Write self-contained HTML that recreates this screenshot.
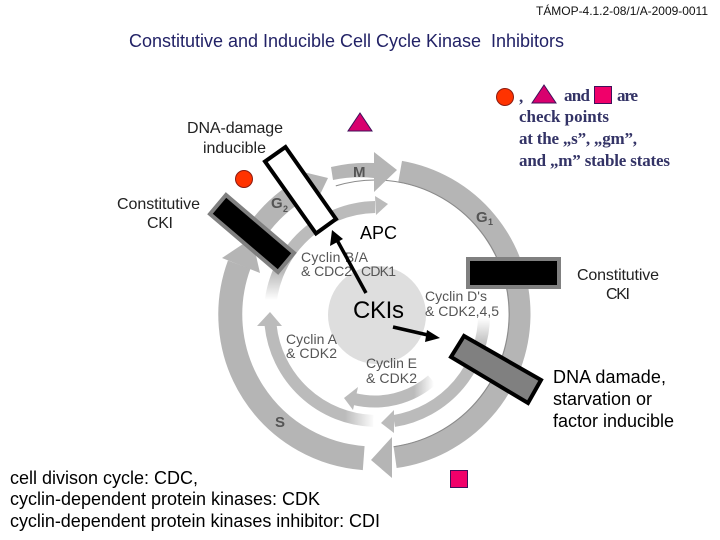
<!DOCTYPE html>
<html>
<head>
<meta charset="utf-8">
<style>
html,body{margin:0;padding:0;background:#fff;width:720px;height:540px;overflow:hidden}
svg{display:block}
text{font-family:"Liberation Sans",sans-serif}
.s{font-family:"Liberation Serif",serif;font-size:17px;fill:#333366;font-weight:bold}
.c{font-size:14px;fill:#555}
.g{font-weight:bold;fill:#555;font-size:15px}
.k{fill:#000;font-size:18px}
.t{fill:#222;font-size:16px}
</style>
</head>
<body>
<svg width="720" height="540" viewBox="0 0 720 540" xmlns="http://www.w3.org/2000/svg">
<defs>
<linearGradient id="fb" gradientUnits="userSpaceOnUse" x1="0" y1="300" x2="0" y2="272"><stop offset="0" stop-color="#fff"/><stop offset="1" stop-color="#bbb"/></linearGradient>
<linearGradient id="fa" gradientUnits="userSpaceOnUse" x1="375" y1="0" x2="345" y2="0"><stop offset="0" stop-color="#fff"/><stop offset="1" stop-color="#bbb"/></linearGradient>
<linearGradient id="fd" gradientUnits="userSpaceOnUse" x1="0" y1="318" x2="0" y2="345"><stop offset="0" stop-color="#fff"/><stop offset="1" stop-color="#bbb"/></linearGradient>
<linearGradient id="fe" gradientUnits="userSpaceOnUse" x1="434" y1="0" x2="414" y2="0"><stop offset="0" stop-color="#fff"/><stop offset="1" stop-color="#bbb"/></linearGradient>
</defs>

<!-- outer ring -->
<g fill="none" stroke="#b5b5b5">
<path d="M400.1 171.7A144.5 144.5 0 0 1 395.1 457.1" stroke-width="22"/>
<path d="M363.7 458.1A144 144 0 0 1 239.2 264.6" stroke-width="24"/>
<path d="M256.6 231.1A144.5 144.5 0 0 1 304.9 187.6" stroke-width="21"/>
</g>
<path d="M335.8 185.9A134 134 0 1 1 393.6 446.7" fill="none" stroke="#8a8a8a" stroke-width="1"/>
<g fill="#b5b5b5">
<polygon points="392,437 392,478 371,460"/>
<polygon points="222,258 260,273 252,238"/>
<polygon points="295,170 315,205 328,178"/>
<path d="M331 167A153 153 0 0 1 374 163L374 152L397 170L374 192L374 178A136 136 0 0 0 333 180Z"/>
</g>

<!-- inner rings -->
<circle cx="377" cy="315" r="49" fill="#dedede"/>
<g fill="none" stroke-width="12">
<path d="M270 314A107 107 0 0 1 375.1 207" stroke="url(#fb)"/>
<path d="M373.3 420.9A107 107 0 0 1 270.6 325.2" stroke="url(#fa)"/>
<path d="M484 314A107 107 0 0 1 394 421" stroke="url(#fd)"/>
<path d="M432 380A87 87 0 0 1 354 399" stroke="url(#fe)"/>
</g>
<g fill="#bbb">
<polygon points="375,196 376,215 388,204"/>
<polygon points="257,326 282,326 270,312"/>
<polygon points="394,410 394,433 381,423"/>
<polygon points="358,387 353,410 344,398"/>
</g>

<!-- cycle labels -->
<text class="g" x="353" y="177" textLength="13">M</text>
<text class="g" x="271" y="208">G</text><text class="g" x="283" y="212" style="font-size:9px">2</text>
<text class="g" x="476" y="222">G</text><text class="g" x="488" y="225" style="font-size:9px">1</text>
<text class="g" x="275" y="427">S</text>
<text class="c" x="301" y="262" textLength="67">Cyclin B/A</text>
<text class="c" x="301" y="276" textLength="51">&amp; CDC2</text>
<text class="c" x="361" y="276" textLength="35">CDK1</text>
<text class="c" x="425" y="301" textLength="62">Cyclin D's</text>
<text class="c" x="425" y="316" textLength="74">&amp; CDK2,4,5</text>
<text class="c" x="286" y="344" textLength="51">Cyclin A</text>
<text class="c" x="286" y="358" textLength="51">&amp; CDK2</text>
<text class="c" x="366" y="368" textLength="51">Cyclin E</text>
<text class="c" x="366" y="383" textLength="51">&amp; CDK2</text>

<!-- boxes -->
<polygon points="285.5,147 265,161.5 316,233.5 336,219" fill="#fff" stroke="#000" stroke-width="4"/>
<polygon points="226,195 210,214 278,272 294,253" fill="#000" stroke="#808080" stroke-width="4"/>
<rect x="468" y="259" width="91" height="28" fill="#000" stroke="#808080" stroke-width="4"/>
<polygon points="464,336 451,357 528,403 541,380" fill="#808080" stroke="#000" stroke-width="4"/>

<!-- arrows -->
<line x1="366" y1="293" x2="337" y2="240" stroke="#000" stroke-width="3.5"/>
<polygon points="332,230 330,246 343,239" fill="#000"/>
<line x1="393" y1="327" x2="430" y2="335.5" stroke="#000" stroke-width="3.5"/>
<polygon points="440,338 427,330 425,342" fill="#000"/>

<!-- check point symbols -->
<g fill="#f0006a" stroke="#40105a" stroke-width="1">
<polygon points="360,113 348,131 372,131" fill="#d8006e"/>
<polygon points="544,85 532,103 556,103" fill="#d8006e"/>
<rect x="594.5" y="86.5" width="17" height="17"/>
<rect x="450.5" y="470.5" width="17" height="17"/>
</g>
<g fill="#ff3300" stroke="#8a1a10" stroke-width="1">
<circle cx="244" cy="179" r="8.5"/>
<circle cx="505" cy="97" r="8.5"/>
</g>

<!-- titles -->
<text x="536" y="15" textLength="172" style="font-size:12px;fill:#111">TÁMOP-4.1.2-08/1/A-2009-0011</text>
<text x="129" y="47" textLength="435" xml:space="preserve" style="font-size:18px;fill:#222266">Constitutive and Inducible Cell Cycle Kinase  Inhibitors</text>

<!-- legend -->
<text class="s" x="519" y="102">,</text>
<text class="s" x="564" y="101" textLength="26">and</text>
<text class="s" x="617" y="101" textLength="21">are</text>
<text class="s" x="519" y="122" textLength="90">check points</text>
<text class="s" x="519" y="144" textLength="118">at the „s”, „gm”,</text>
<text class="s" x="519" y="166" textLength="151">and „m” stable states</text>

<!-- annotations -->
<text class="t" x="187" y="133" textLength="96">DNA-damage</text>
<text class="t" x="203" y="153" textLength="63">inducible</text>
<text class="t" x="117" y="209" textLength="83">Constitutive</text>
<text class="t" x="147" y="228" textLength="26">CKI</text>
<text class="t" x="577" y="280" textLength="82">Constitutive</text>
<text class="t" x="606" y="299" textLength="24">CKI</text>
<text class="k" x="360" y="239" textLength="37">APC</text>
<text x="353" y="318" textLength="51" style="font-size:24px;fill:#000">CKIs</text>
<text class="k" x="553" y="383" textLength="113">DNA damade,</text>
<text class="k" x="553" y="405" textLength="99">starvation or</text>
<text class="k" x="553" y="427" textLength="121">factor inducible</text>
<text class="k" x="10" y="484" textLength="188">cell divison cycle: CDC,</text>
<text class="k" x="10" y="505" textLength="310">cyclin-dependent protein kinases: CDK</text>
<text class="k" x="10" y="527" textLength="370">cyclin-dependent protein kinases inhibitor: CDI</text>
</svg>
</body>
</html>
